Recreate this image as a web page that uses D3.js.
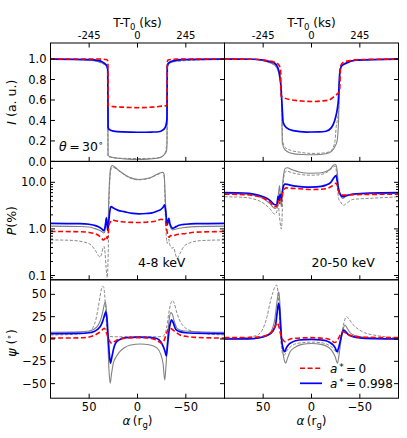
<!DOCTYPE html>
<html><head><meta charset="utf-8">
<script src="https://cdn.jsdelivr.net/npm/d3@7"></script>
<style>
body{margin:0;background:#fff}
svg{display:block}
text{font-family:"DejaVu Sans",sans-serif;fill:#000}
</style>
</head><body>
<svg id="c" width="407" height="438"></svg>
<script>
// ---------------- DATA (alpha in r_g, value) ----------------
// Intensity, 4-8 keV
const I_lo_red = [[90,1],[40,1],[32,0.995],[31,0.985],[30.6,0.97],[30.3,0.54],[25,0.535],[15,0.53],[0,0.525],[-15,0.53],[-25,0.54],[-30,0.545],[-30.5,0.56],[-30.8,0.97],[-31.5,0.99],[-40,1],[-90,1]];
const I_lo_blue = [[90,1],[50,0.995],[40,0.985],[36,0.97],[33,0.95],[31.5,0.93],[30.8,0.9],[30.4,0.33],[29,0.31],[25,0.295],[15,0.288],[0,0.285],[-15,0.287],[-22,0.29],[-26,0.305],[-28.5,0.33],[-30,0.38],[-30.5,0.42],[-30.8,0.93],[-32,0.96],[-36,0.98],[-45,0.995],[-90,1]];
const I_lo_gray = [[90,1],[50,0.99],[40,0.975],[36,0.96],[33,0.94],[31.5,0.92],[30.8,0.88],[30.4,0.06],[28,0.045],[20,0.03],[10,0.022],[0,0.02],[-10,0.022],[-20,0.03],[-25,0.045],[-28,0.07],[-30,0.1],[-30.5,0.15],[-30.8,0.92],[-33,0.96],[-40,0.98],[-50,0.995],[-90,1]];
const I_lo_grayDash = [[90,1],[50,0.99],[40,0.97],[35,0.95],[32,0.93],[31,0.9],[30.6,0.05],[28,0.04],[15,0.03],[0,0.028],[-15,0.03],[-24,0.04],[-27,0.06],[-29,0.1],[-30,0.15],[-30.6,0.2],[-30.9,0.93],[-33,0.97],[-90,1]];
// Intensity, 20-50 keV
const I_hi_red = [[90,1],[60,0.998],[50,0.99],[40,0.975],[35,0.955],[33,0.93],[32,0.9],[31.5,0.64],[28,0.62],[20,0.6],[10,0.59],[0,0.585],[-10,0.59],[-18,0.6],[-24,0.64],[-28.5,0.68],[-29.3,0.72],[-30,0.93],[-33,0.97],[-40,0.985],[-50,0.995],[-90,1]];
const I_hi_blue = [[90,1],[60,0.998],[50,0.99],[43,0.975],[38,0.96],[35,0.92],[33,0.85],[31.5,0.72],[30.3,0.52],[29.3,0.38],[26,0.33],[19,0.3],[5,0.287],[-8,0.288],[-15,0.295],[-20.6,0.33],[-24,0.4],[-26.5,0.5],[-27.8,0.6],[-29.2,0.86],[-31,0.93],[-36,0.96],[-46,0.99],[-90,1]];
const I_hi_gray = [[90,1],[60,0.997],[50,0.985],[43,0.965],[38,0.94],[35,0.9],[33,0.82],[31.5,0.72],[30.7,0.5],[30.2,0.18],[27.6,0.115],[22,0.083],[10,0.067],[-3,0.065],[-15,0.075],[-21,0.1],[-24.5,0.15],[-26.5,0.2],[-28,0.4],[-29.3,0.88],[-31,0.94],[-36,0.965],[-46,0.99],[-90,1]];
const I_hi_grayDash = [[90,1],[60,0.997],[50,0.985],[43,0.965],[38,0.94],[35,0.9],[33,0.82],[31.5,0.72],[30.5,0.4],[29.8,0.2],[27.6,0.14],[22,0.11],[12,0.09],[0,0.078],[-10,0.08],[-18.9,0.095],[-24,0.18],[-25.6,0.34],[-27,0.42],[-28.3,0.55],[-29.3,0.88],[-31,0.94],[-36,0.965],[-46,0.99],[-90,1]];
// Polarization degree (%), 4-8 keV
const P_lo_red = [[90,0.88],[60,0.87],[50,0.84],[45,0.8],[40,0.72],[37,0.63],[35.5,0.58],[34,0.6],[32.5,0.7],[31.5,0.62],[30.5,0.7],[29.5,1.2],[28,1.4],[26.2,1.55],[24,1.52],[16,1.43],[5,1.38],[-1.4,1.37],[-10,1.4],[-15,1.43],[-20,1.5],[-24.8,1.61],[-27,1.55],[-29,1.43],[-30.5,0.9],[-31.4,0.74],[-32.8,0.66],[-34,0.72],[-36,0.7],[-39.3,0.74],[-50,0.8],[-60,0.85],[-90,0.88]];
const P_lo_blue = [[90,1.32],[60,1.3],[50,1.26],[45,1.2],[40,1.1],[37,1.0],[34.8,0.92],[33.5,1.1],[32.1,1.7],[31.3,1.2],[30.7,0.93],[29.8,1.4],[28.5,2.5],[27.2,3.0],[25,2.8],[20,2.5],[14,2.35],[5,2.15],[-1.4,2.1],[-10,2.15],[-15,2.2],[-20,2.4],[-24,2.6],[-26.5,2.9],[-28,3.27],[-29,2.6],[-30.7,1.22],[-31.7,1.5],[-32.4,1.69],[-33.5,1.3],[-35,1.1],[-36.5,1.03],[-40,1.12],[-43,1.2],[-50,1.26],[-60,1.3],[-90,1.32]];
const P_lo_gray = [[90,1.15],[60,1.13],[50,1.1],[45,1.03],[40,0.95],[37,0.88],[35,0.82],[34,0.85],[33,1.4],[32.2,1.8],[31.3,1.1],[30.6,1.0],[29.8,4],[28.5,15],[27.5,21],[26.2,23],[22,20],[18.6,17.5],[9,13],[-1.4,11.5],[-13,12.5],[-22,15.5],[-26,16.5],[-27.5,15],[-28.5,6],[-29.3,2.6],[-31,1.22],[-32.4,1.69],[-33.5,1.2],[-36.5,0.95],[-40,1.0],[-50,1.08],[-60,1.12],[-90,1.15]];
const P_lo_grayDash = [[90,0.58],[70,0.57],[55,0.52],[48,0.45],[43,0.33],[40,0.26],[38.5,0.25],[37,0.3],[35.5,0.4],[34.5,0.42],[33.5,0.3],[32.5,0.15],[31.3,0.09],[30.3,0.3],[29.5,3],[28.3,14],[27,20],[25.5,21],[20,18],[10,13],[0,11.3],[-10,11.8],[-20,14.5],[-25,16],[-26.5,16.5],[-27.8,12],[-28.8,2],[-29.8,0.7],[-30.7,0.49],[-32.4,0.6],[-33.5,0.45],[-35.8,0.385],[-37.5,0.4],[-39,0.3],[-41,0.235],[-44,0.3],[-48,0.42],[-53,0.49],[-65,0.56],[-90,0.58]];
// Polarization degree (%), 20-50 keV
const P_hi_red = [[90,5.55],[70,5.45],[60,5.2],[50,4.6],[43,3.8],[38,3.0],[36,3.05],[34.5,4.0],[33,3.5],[32,4.5],[31,4.0],[30,5.5],[28.5,7.0],[26,7.6],[20,7.4],[12,7.3],[0,7.0],[-10,7.1],[-18,7.6],[-22,8.5],[-25,9.5],[-26.5,8.8],[-28,6.5],[-30,5.3],[-33,5.3],[-40,5.4],[-60,5.5],[-90,5.55]];
const P_hi_blue = [[90,6.0],[70,5.9],[60,5.6],[50,4.9],[43,4.1],[38,3.3],[36,3.27],[34.5,5.0],[33.5,4.0],[32.5,5.5],[31.5,4.2],[30.5,5.5],[29.5,7.5],[27.5,9.1],[25,9.0],[20,8.5],[12,8.1],[0,7.9],[-10,8.2],[-15,8.7],[-20,10],[-24,13.2],[-25.5,14],[-26.5,11],[-28,7],[-30,5.4],[-31.5,5.0],[-33,4.9],[-36,5.2],[-43,5.6],[-60,5.9],[-90,6.0]];
const P_hi_gray = [[90,5.8],[70,5.6],[60,5.3],[50,4.5],[43,3.5],[38,2.75],[36,2.9],[34.5,5.0],[33,8.5],[32,4],[31,3],[30.3,6],[29,14],[27,20],[25,20.5],[20,18.5],[12,16.5],[2,15.7],[-8,15.8],[-15,17],[-20,20],[-23,23.5],[-25,24],[-26.5,18],[-28,8],[-30,5.2],[-32,4.5],[-35,4.9],[-43,5.4],[-60,5.7],[-90,5.8]];
const P_hi_grayDash = [[90,4.9],[70,4.75],[60,4.4],[50,3.6],[43,2.7],[38,2.07],[36,2.3],[34.5,3.5],[33.5,2.2],[32.5,1.4],[31.2,1.0],[30.5,1.6],[29.5,8],[28,15],[26,17.5],[20,16],[12,14.8],[2,14.2],[-8,14.5],[-15,16],[-20,19],[-23,21.5],[-25,22],[-26,14],[-27,7],[-28,4.5],[-30,3.8],[-33,3.2],[-36,3.5],[-43,4.3],[-63,4.55],[-90,4.9]];
// Polarization angle (deg), 4-8 keV
const A_lo_red = [[90,1],[60,1.3],[50,2.2],[45,4],[40,7],[37,9.5],[34.5,12],[33,10],[31.5,5],[30,0],[28.5,-3],[26.5,-4.8],[24,-3],[20,-0.5],[10,1.2],[0,1.5],[-10,1.2],[-20,-1.5],[-23,-3.5],[-25,-4.8],[-27,-3],[-29,3],[-31,9],[-33,12],[-35,11.5],[-38,9],[-44,4.5],[-50,3],[-60,1.8],[-90,1]];
const A_lo_blue = [[90,6],[60,6.3],[50,7],[45,8.5],[41,11],[38,15],[36,20],[34,27],[32.8,30.5],[31.5,22],[30.5,5],[29.3,-15],[28,-27],[26.5,-20],[24.5,-10],[22.8,-5],[19,-1],[12,1.5],[0,2.2],[-12,1.8],[-20,0.5],[-24,-3],[-26.5,-8],[-28.5,-14],[-29.8,-19],[-31,-8],[-32.5,8],[-34,18],[-35.2,21.5],[-37,18],[-39.5,11],[-43,8.5],[-50,7],[-70,6.2],[-90,6]];
const A_lo_gray = [[90,7.5],[60,8],[50,9],[45,11],[41,15],[38,22],[36,30],[34.3,39],[33.1,41.8],[32,30],[30.8,0],[29.5,-35],[28.2,-49.6],[27,-40],[25,-27],[22,-20],[19,-15],[14,-10],[7,-6.7],[-3,-5.6],[-12,-6.5],[-20,-10],[-24,-17],[-26.5,-28],[-28.2,-46],[-29.5,-30],[-31,0],[-32.8,22],[-34.5,29.5],[-36,28],[-38,20],[-41,12],[-46,9.5],[-55,8.5],[-70,7.8],[-90,7.5]];
const A_lo_grayDash = [[90,4.5],[70,5],[55,6.5],[50,8.5],[46,13],[43,22],[41,33],[39,46],[37.5,55],[36,59],[35,58],[34,50],[33,33],[32,15],[31,5],[29.5,3],[25,2.5],[0,2.5],[-20,2.5],[-26,3],[-28.5,6],[-30.5,15],[-32.5,30],[-34.5,40],[-36.3,43],[-38,40],[-40.5,30],[-44,20],[-50,12],[-56,9],[-70,6],[-90,4.5]];
// Polarization angle (deg), 20-50 keV
const A_hi_red = [[90,1.5],[60,1.8],[50,3],[45,5],[40,9],[37.5,14],[35.6,18.3],[34,15],[32.5,8],[31,2],[29.5,-1],[27.5,-3],[25,-1.5],[20,0.5],[0,1.5],[-15,0.5],[-20,-1],[-24,-4],[-26.5,-2],[-29,3],[-32.7,8.2],[-35,7],[-38,5],[-43,3],[-60,1.8],[-90,1.5]];
const A_hi_blue = [[90,0],[60,0.5],[50,2.5],[45,4.5],[40,9],[37,17],[35.5,30],[34.5,38],[33.8,40],[33,33],[32,15],[31,0],[29.5,-10],[27.6,-14.2],[26,-10],[24,-6.7],[20,-3.5],[13,-1.1],[0,-0.5],[-10,-1.1],[-15,-2],[-19,-4],[-22.4,-6.7],[-24.5,-10],[-26.5,-14.2],[-28,-10],[-30,-1],[-31.5,6],[-33.3,10],[-35,8.5],[-38,5],[-43,2.6],[-50,1.2],[-65,0.4],[-90,0]];
const A_hi_gray = [[90,0],[60,0.5],[50,2],[45,4.5],[42,8],[40,13],[38,22],[36.5,35],[35,47],[33.8,53],[33,45],[32,25],[31,5],[30,-10],[28.5,-22],[26.6,-27],[25,-22],[22,-14],[18,-10],[10,-6],[0,-5],[-10,-6],[-17,-9],[-21,-13],[-24.5,-19.8],[-26.9,-27],[-28.5,-18],[-30.5,-2],[-32.5,10],[-34.6,15.7],[-37,12],[-40,7],[-45,4],[-55,2],[-70,0.8],[-90,0.3]];
const A_hi_grayDash = [[90,0.8],[70,1.5],[60,3],[55,5],[50,12],[46,25],[43,40],[40,52],[38,58],[36.2,60.5],[35,55],[34,42],[33,22],[32,3],[31,-10],[29.5,-17],[28,-18],[26,-14],[22,-9],[15,-5],[0,-3.5],[-12,-4.5],[-18,-7],[-22,-10],[-25,-14],[-27,-16],[-29,-8],[-31,5],[-33.5,18],[-36.2,25],[-39,22],[-43,16],[-46,13],[-55,7],[-64,4.5],[-80,2],[-90,0.8]];

// ticks
const xTicks = [50, 0, -50];
const xTickLabels = ["50", "0", "\u221250"];
const topTicks = [50, 0, -50];
const topTickLabels = ["-245", "0", "245"];
const iTicks = [0, 0.2, 0.4, 0.6, 0.8, 1.0];
const iTickLabels = ["0.0", "0.2", "0.4", "0.6", "0.8", "1.0"];
const pTicks = [0.1, 1, 10];
const pTickLabels = ["0.1", "1.0", "10.0"];
const pMinor = [0.09,0.2,0.3,0.4,0.5,0.6,0.7,0.8,0.9,2,3,4,5,6,7,8,9,20];
const aTicks = [-50, -25, 0, 25, 50];
const aTickLabels = ["\u221250", "\u221225", "0", "25", "50"];
const bandLabels = ["4-8 keV", "20-50 keV"];
const legendLabels = ["0", "0.998"];

// ---------------- LAYOUT ----------------
const svg = d3.select("#c");
const colX = [[50.5, 224.5], [224.5, 398.5]];
const top0 = 43, ph = 118.4;
const rowY = [0,1,2].map(i => [top0 + i*ph, top0 + (i+1)*ph]);

const xScales = colX.map(r => d3.scaleLinear().domain([90, -90]).range(r));
const yMakers = [
  r => d3.scaleLinear().domain([0, 1.157]).range([r[1], r[0]]),
  r => d3.scaleLog().domain([0.0809, 28.1]).range([r[1], r[0]]),
  r => d3.scaleLinear().domain([-66.3, 66.3]).range([r[1], r[0]])
];
const data = [
  [[I_lo_grayDash, I_lo_gray, I_lo_blue, I_lo_red], [I_hi_grayDash, I_hi_gray, I_hi_blue, I_hi_red]],
  [[P_lo_grayDash, P_lo_gray, P_lo_blue, P_lo_red], [P_hi_grayDash, P_hi_gray, P_hi_blue, P_hi_red]],
  [[A_lo_grayDash, A_lo_gray, A_lo_blue, A_lo_red], [A_hi_grayDash, A_hi_gray, A_hi_blue, A_hi_red]]
];
const styles = [
  {c: "#8a8a8a", w: 1.0, d: "3.2,1.6"},
  {c: "#808080", w: 1.1, d: null},
  {c: "#0000ff", w: 1.7, d: null},
  {c: "#ff0000", w: 1.6, d: "5,2.6"}
];
const yTickSets = [
  {t: iTicks, l: iTickLabels, m: []},
  {t: pTicks, l: pTickLabels, m: pMinor},
  {t: aTicks, l: aTickLabels, m: []}
];

const defs = svg.append("defs");
const TL = 4.5, TLm = 2.5;

for (let r = 0; r < 3; r++) {
  for (let c = 0; c < 2; c++) {
    const xs = xScales[c];
    const ry = rowY[r];
    const ys = yMakers[r](ry);
    const [x0, x1] = colX[c];
    const id = `clip${r}${c}`;
    defs.append("clipPath").attr("id", id).append("rect")
      .attr("x", x0).attr("y", ry[0]).attr("width", x1 - x0).attr("height", ry[1] - ry[0]);
    const g = svg.append("g");
    const gl = g.append("g").attr("clip-path", `url(#${id})`);
    const line = d3.line().x(d => xs(d[0])).y(d => ys(d[1])).curve(d3.curveMonotoneX);
    data[r][c].forEach((s, i) => {
      const st = styles[i];
      gl.append("path").attr("d", line(s)).attr("fill", "none")
        .attr("stroke", st.c).attr("stroke-width", st.w)
        .attr("stroke-dasharray", st.d).attr("stroke-linejoin", "round");
    });
    // frame
    g.append("rect").attr("x", x0).attr("y", ry[0]).attr("width", x1 - x0).attr("height", ry[1] - ry[0])
      .attr("fill", "none").attr("stroke", "#000").attr("stroke-width", 1);
    // x ticks (inward, bottom; top only for top row)
    xTicks.forEach(t => {
      const px = xs(t);
      g.append("line").attr("x1", px).attr("x2", px).attr("y1", ry[1]).attr("y2", ry[1] - TL).attr("stroke", "#000");
      if (r === 0) g.append("line").attr("x1", px).attr("x2", px).attr("y1", ry[0]).attr("y2", ry[0] + TL).attr("stroke", "#000");
    });
    // y ticks
    const ts = yTickSets[r];
    ts.t.forEach(t => {
      const py = ys(t);
      if (c === 0) g.append("line").attr("x1", x0).attr("x2", x0 + TL).attr("y1", py).attr("y2", py).attr("stroke", "#000");
      g.append("line").attr("x1", x1).attr("x2", x1 - TL).attr("y1", py).attr("y2", py).attr("stroke", "#000");
    });
    ts.m.forEach(t => {
      const py = ys(t);
      if (py < ry[0] || py > ry[1]) return;
      if (c === 0) g.append("line").attr("x1", x0).attr("x2", x0 + TLm).attr("y1", py).attr("y2", py).attr("stroke", "#000");
      g.append("line").attr("x1", x1).attr("x2", x1 - TLm).attr("y1", py).attr("y2", py).attr("stroke", "#000");
    });
    // y tick labels on left column
    if (c === 0) {
      ts.t.forEach((t, i) => {
        svg.append("text").attr("x", 46.5).attr("y", ys(t)).attr("dy", "0.36em")
          .attr("text-anchor", "end").attr("font-size", 11.5).text(ts.l[i]);
      });
    }
    // bottom x tick labels
    if (r === 2) {
      xTicks.forEach((t, i) => {
        svg.append("text").attr("x", xs(t)).attr("y", 411).attr("text-anchor", "middle")
          .attr("font-size", 11.5).text(xTickLabels[i]);
      });
      const xl = svg.append("text").attr("x", (x0 + x1) / 2).attr("y", 425).attr("text-anchor", "middle").attr("font-size", 12);
      xl.append("tspan").attr("font-style", "italic").text("\u03b1");
      xl.append("tspan").text("\u2009(r");
      xl.append("tspan").attr("font-size", 8.5).attr("dy", 3).text("g");
      xl.append("tspan").attr("dy", -3).text(")");
    }
    // top axis
    if (r === 0) {
      topTicks.forEach((t, i) => {
        svg.append("text").attr("x", xs(t)).attr("y", 38.5).attr("text-anchor", "middle")
          .attr("font-size", 10).text(topTickLabels[i]);
      });
      const tl = svg.append("text").attr("x", (x0 + x1) / 2).attr("y", 26.5).attr("text-anchor", "middle").attr("font-size", 12);
      tl.append("tspan").text("T-T");
      tl.append("tspan").attr("font-size", 8.5).attr("dy", 3).text("0");
      tl.append("tspan").attr("dy", -3).text(" (ks)");
    }
    // band label
    if (r === 1) {
      svg.append("text").attr("x", c === 0 ? 138 : 311.5).attr("y", 266.5).attr("font-size", 12.5).text(bandLabels[c]);
    }
  }
}

// y-axis labels
const yLab = (cy, build) => {
  const t = svg.append("text").attr("transform", `translate(16,${cy}) rotate(-90)`)
    .attr("text-anchor", "middle").attr("font-size", 12.5);
  build(t);
};
yLab((rowY[0][0] + rowY[0][1]) / 2, t => {
  t.append("tspan").attr("font-style", "italic").text("I");
  t.append("tspan").text(" (a. u.)");
});
yLab((rowY[1][0] + rowY[1][1]) / 2, t => {
  t.append("tspan").attr("font-style", "italic").text("P");
  t.append("tspan").text("(%)");
});
yLab((rowY[2][0] + rowY[2][1]) / 2 + 4, t => {
  t.append("tspan").attr("font-style", "italic").text("\u03c8");
  t.append("tspan").text(" (");
  t.append("tspan").attr("font-size", 9).attr("dy", -4).text("\u2218");
  t.append("tspan").attr("dy", 4).text(")");
});

// theta annotation
const th = svg.append("text").attr("x", 59).attr("y", 151).attr("font-size", 12.5);
th.append("tspan").attr("font-style", "italic").text("\u03b8");
th.append("tspan").text("\u2009=\u200930");
th.append("tspan").attr("font-size", 9).attr("dy", -5).text("\u2218");

// legend
[3, 2].forEach((si, k) => {
  const ly = 368.3 + k * 15;
  const st = styles[si];
  svg.append("line").attr("x1", 300).attr("x2", 322).attr("y1", ly).attr("y2", ly)
    .attr("stroke", st.c).attr("stroke-width", st.w).attr("stroke-dasharray", st.d);
  const t = svg.append("text").attr("x", 330).attr("y", ly + 4.3).attr("font-size", 12);
  t.append("tspan").attr("font-style", "italic").text("a");
  t.append("tspan").attr("font-size", 9).attr("dy", -3).text("\u2009*");
  t.append("tspan").attr("dy", 3).text("\u2009=\u2009" + legendLabels[k]);
});
</script>
</body></html>
